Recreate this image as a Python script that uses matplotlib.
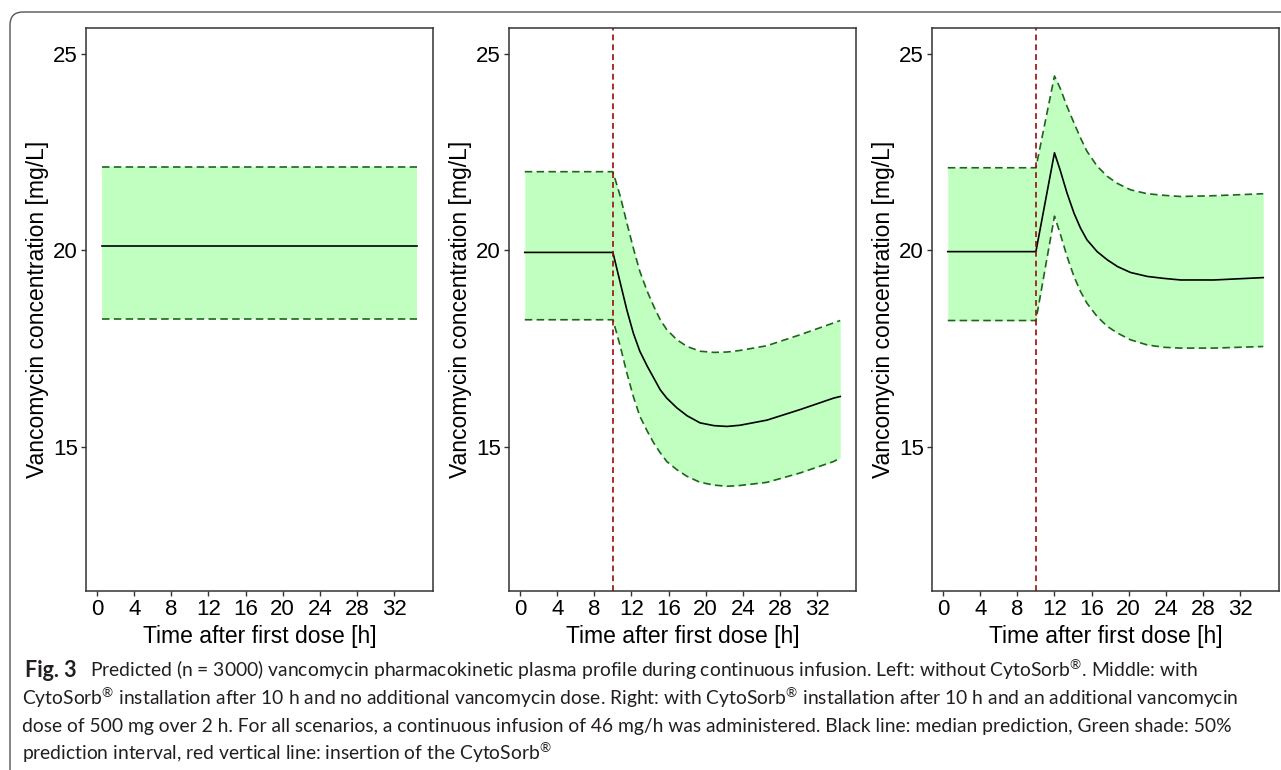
import matplotlib
matplotlib.use("Agg")
import matplotlib.pyplot as plt
from matplotlib.patches import FancyBboxPatch
from matplotlib.transforms import IdentityTransform

# Zeitpunkte [h] und Konzentrationen [mg/L] (median, 25%, 75%)
t_left = [0.5, 34.5]
med_left = [20.12, 20.12]
lo_left = [18.27, 18.27]
hi_left = [22.12, 22.12]

t_mid = [0.5, 10, 10.8, 11.5, 12.2, 12.9, 13.7, 14.4, 15.1, 15.8, 16.9, 18, 19.4, 20.9, 22.3, 23.7, 26.6, 30.2, 33.8, 34.5]
med_mid = [19.95, 19.95, 19.17, 18.49, 17.90, 17.44, 17.06, 16.76, 16.46, 16.25, 16.00, 15.80, 15.62, 15.55, 15.53, 15.56, 15.69, 15.96, 16.25, 16.29]
lo_mid = [18.24, 18.24, 17.56, 16.89, 16.29, 15.79, 15.41, 15.11, 14.86, 14.64, 14.43, 14.26, 14.11, 14.04, 14.01, 14.03, 14.11, 14.35, 14.64, 14.73]
hi_mid = [22.0, 22.0, 21.37, 20.70, 20.06, 19.47, 18.96, 18.58, 18.24, 17.99, 17.73, 17.56, 17.44, 17.41, 17.42, 17.46, 17.58, 17.86, 18.16, 18.22]

t_right = [0.5, 10, 12, 12.6, 13.35, 14.1, 14.8, 15.5, 16.6, 17.7, 18.8, 20.2, 22, 23.8, 25.6, 29.2, 34.5]
med_right = [19.97, 19.97, 22.48, 22.05, 21.46, 20.95, 20.57, 20.27, 19.97, 19.76, 19.59, 19.44, 19.34, 19.29, 19.25, 19.25, 19.31]
lo_right = [18.22, 18.22, 20.87, 20.44, 19.85, 19.34, 18.96, 18.66, 18.32, 18.07, 17.90, 17.73, 17.60, 17.54, 17.52, 17.52, 17.56]
hi_right = [22.1, 22.1, 24.43, 24.13, 23.66, 23.24, 22.86, 22.52, 22.14, 21.88, 21.70, 21.54, 21.44, 21.40, 21.37, 21.39, 21.44]

cytosorb_time = 10
x_ticks = [0, 4, 8, 12, 16, 20, 24, 28, 32]
y_ticks = [15, 20, 25]

caption_first = "Predicted (n = 3000) vancomycin pharmacokinetic plasma profile during continuous infusion. Left: without CytoSorb$^{®}$. Middle: with"
caption_lines = [
    "CytoSorb$^{®}$ installation after 10 h and no additional vancomycin dose. Right: with CytoSorb$^{®}$ installation after 10 h and an additional vancomycin",
    "dose of 500 mg over 2 h. For all scenarios, a continuous infusion of 46 mg/h was administered. Black line: median prediction, Green shade: 50%",
    "prediction interval, red vertical line: insertion of the CytoSorb$^{®}$",
]

W, H = 1281, 770

plt.rcParams['font.family'] = ['Liberation Sans', 'DejaVu Sans']
plt.rcParams['mathtext.fontset'] = 'custom'
plt.rcParams['mathtext.rm'] = 'Lato'
plt.rcParams['mathtext.it'] = 'Lato:italic'
plt.rcParams['mathtext.bf'] = 'Lato:bold'


def panel(fig, box, t, med, lo, hi, vline):
    l, top, r, b = box
    ax = fig.add_axes([l / W, 1 - b / H, (r - l) / W, (b - top) / H])
    ax.fill_between(t, lo, hi, color='#c1ffc1', linewidth=0)
    ax.plot(t, hi, color='#1a661a', lw=1.2, linestyle=(0, (4.5, 2.6)))
    ax.plot(t, lo, color='#1a661a', lw=1.2, linestyle=(0, (4.5, 2.6)))
    ax.plot(t, med, color='black', lw=1.2)
    if vline:
        ax.axvline(cytosorb_time, color='#9a0c0c', lw=1.2, linestyle=(0, (3.5, 2.4)))
    ax.set_xlim(-1.2, 36.2)
    ax.set_ylim(11.35, 25.65)
    ax.set_xticks(x_ticks)
    ax.set_yticks(y_ticks)
    for s in ax.spines.values():
        s.set_color('#333333')
        s.set_linewidth(1.1)
    ax.tick_params(colors='#333333', labelcolor='black', labelsize=16, length=3.5, width=1, pad=2.5)
    ax.set_xlabel('Time after first dose [h]', fontsize=16.5, labelpad=3)
    ax.set_ylabel('Vancomycin concentration [mg/L]', fontsize=16.5, labelpad=3)
    return ax


fig = plt.figure(figsize=(W / 100, H / 100), dpi=100)

panel(fig, (86, 28, 433, 591), t_left, med_left, lo_left, hi_left, False)
panel(fig, (509, 28, 856, 591), t_mid, med_mid, lo_mid, hi_mid, True)
panel(fig, (932, 28, 1279, 591), t_right, med_right, lo_right, hi_right, True)

# abgerundeter Rahmen
frame = FancyBboxPatch((10, -100), 1400, H - 12 + 100, boxstyle='round,pad=0,rounding_size=13',
                       transform=IdentityTransform(), facecolor='none', edgecolor='#555555', lw=1.0)
fig.patches.append(frame)

# Bildunterschrift
cap_color = '#231f20'
cap_size = 13.85
fig.text(25 / W, 1 - 677 / H, 'Fig. 3', fontsize=15.5, fontweight='bold', family='Lato', color=cap_color)
fig.text(90 / W, 1 - 677 / H, caption_first, fontsize=cap_size, family='Lato', color=cap_color)
for i, line in enumerate(caption_lines):
    y = 677 + 27.6 * (i + 1)
    fig.text(22 / W, 1 - y / H, line, fontsize=cap_size, family='Lato', color=cap_color)

fig.savefig('out.png', dpi=100)
